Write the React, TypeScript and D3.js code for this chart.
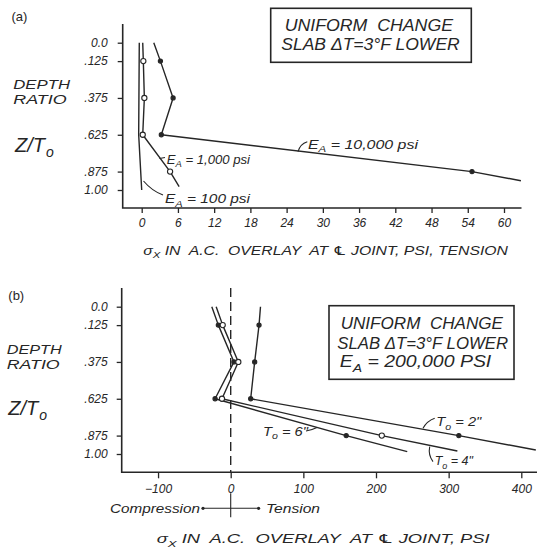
import React, { useEffect, useRef } from 'react';
import * as d3 from 'd3';

// depth ratio z/To
const depthTicks = [0, 0.125, 0.375, 0.625, 0.875, 1.0];
const depthLabels = ['0.0', '.125', '.375', '.625', '.875', '1.00'];
const markedDepths = [0.125, 0.375, 0.625, 0.875];

// panel (a) - stress in psi, tension
const xTicksA = [0, 6, 12, 18, 24, 30, 36, 42, 48, 54, 60];
const ea100Depth = [0, 0.625, 1.0];
const ea100Stress = [-0.4, -0.5, 0];
const ea1000Depth = [0, 0.125, 0.375, 0.625, 0.875, 0.977];
const ea1000Stress = [0.17, 0.27, 0.44, 0.17, 4.7, 6.2];
const ea10000Depth = [0, 0.125, 0.375, 0.625, 0.875, 0.937];
const ea10000Stress = [2.0, 3.1, 5.2, 3.25, 54.7, 62.8];

// panel (b) - EA = 200,000 psi, three overlay thicknesses
const xTicksB = [-100, 0, 100, 200, 300, 400];
const to2Depth = [0, 0.125, 0.375, 0.625, 0.875, 0.973];
const to2Stress = [41, 39, 33, 27.5, 314, 420];
const to4Depth = [0, 0.125, 0.375, 0.625, 0.875, 0.98];
const to4Stress = [-20, -11, 10.5, -12, 208, 312];
const to6Depth = [0, 0.125, 0.375, 0.625, 0.875, 0.984];
const to6Stress = [-26, -17, 4.5, -21.5, 159, 243];

const FONT = '"Liberation Sans", Arial, sans-serif';
const INK = '#262626';

type Part = { t: string; sub?: boolean; sym?: boolean };

function label(g: any, x: number, y: number, parts: Part[], size: number, opts: any = {}) {
  const t = g.append('text')
    .attr('x', x)
    .attr('y', y)
    .attr('font-family', FONT)
    .attr('font-style', opts.normal ? 'normal' : 'italic')
    .attr('font-size', size)
    .attr('fill', INK)
    .attr('text-anchor', opts.anchor || 'start')
    .style('white-space', 'pre');
  if (opts.len) t.attr('textLength', opts.len).attr('lengthAdjust', 'spacingAndGlyphs');
  let down = false;
  parts.forEach(p => {
    const s = t.append('tspan').text(p.t);
    if (p.sym) s.attr('font-family', '"DejaVu Sans", sans-serif');
    if (p.sub) {
      s.attr('font-size', size * 0.72).attr('dy', size * 0.3);
      down = true;
    } else if (down) {
      s.attr('dy', -size * 0.3);
      down = false;
    }
  });
  return t;
}

// the "Z/To" depth symbol, with the subscript as its own text so nothing overlaps
function depthSymbol(g: any, x: number, y: number) {
  const main = g.append('text')
    .attr('x', x).attr('y', y)
    .attr('font-family', FONT).attr('font-style', 'italic')
    .attr('font-size', 20).attr('fill', INK)
    .text('Z/T');
  const w = main.node().getComputedTextLength();
  g.append('text')
    .attr('x', x + w + 1).attr('y', y + 5)
    .attr('font-family', FONT).attr('font-style', 'italic')
    .attr('font-size', 14).attr('fill', INK)
    .text('o');
}

function drawSeries(g: any, x: any, y: any, depth: number[], stress: number[], marker: string | null) {
  const pts = depth.map((d, i) => [x(stress[i]), y(d)]);
  g.append('path')
    .attr('d', d3.line()(pts as any))
    .attr('fill', 'none')
    .attr('stroke', INK)
    .attr('stroke-width', 1.4)
    .attr('stroke-linejoin', 'round');
  if (!marker) return;
  depth.forEach((d, i) => {
    if (markedDepths.indexOf(d) < 0) return;
    g.append('circle')
      .attr('cx', x(stress[i]))
      .attr('cy', y(d))
      .attr('r', marker === 'open' ? 2.6 : 2.1)
      .attr('fill', marker === 'open' ? '#fff' : INK)
      .attr('stroke', INK)
      .attr('stroke-width', 1.1);
  });
}

function drawAxes(g: any, x: any, y: any, xTicks: number[], frame: any, pad: any) {
  g.append('g')
    .attr('transform', `translate(${frame.left},0)`)
    .call(d3.axisLeft(y).tickValues(depthTicks).tickFormat((d, i) => depthLabels[i]).tickSize(5).tickPadding(pad.y))
    .call((s: any) => s.select('.domain').remove());
  g.append('g')
    .attr('transform', `translate(0,${frame.bottom})`)
    .call(d3.axisBottom(x).tickValues(xTicks).tickFormat(d3.format('d')).tickSize(pad.tick).tickPadding(pad.x))
    .call((s: any) => s.select('.domain').remove());
  g.selectAll('.tick line').attr('stroke', INK).attr('stroke-width', 1.3);
  g.selectAll('.tick text')
    .attr('font-family', FONT)
    .attr('font-style', 'italic')
    .attr('font-size', 12)
    .attr('fill', INK);
  g.append('path')
    .attr('d', `M${frame.left},${frame.top}V${frame.bottom}H${frame.right}`)
    .attr('fill', 'none')
    .attr('stroke', INK)
    .attr('stroke-width', 1.6);
}

function leader(g: any, d: string) {
  g.append('path').attr('d', d).attr('fill', 'none').attr('stroke', INK).attr('stroke-width', 1.1);
}

function box(g: any, x: number, y: number, w: number, h: number) {
  g.append('rect').attr('x', x).attr('y', y).attr('width', w).attr('height', h)
    .attr('fill', '#fff').attr('stroke', INK).attr('stroke-width', 1.6);
}

function Chart() {
  const ref = useRef<SVGSVGElement>(null);

  useEffect(() => {
    const svg = d3.select(ref.current);
    svg.selectAll('*').remove();

    // ---------- panel (a) ----------
    const a = svg.append('g');
    const xA = d3.scaleLinear().domain([0, 60]).range([141.7, 504]);
    const yA = d3.scaleLinear().domain([0, 1]).range([42.7, 190]);
    drawAxes(a, xA, yA, xTicksA, { left: 122.7, top: 24, bottom: 208, right: 521.5 }, { y: 10, x: 5, tick: 5 });

    drawSeries(a, xA, yA, ea100Depth, ea100Stress, null);
    drawSeries(a, xA, yA, ea1000Depth, ea1000Stress, 'open');
    drawSeries(a, xA, yA, ea10000Depth, ea10000Stress, 'dot');

    label(a, 11.5, 20.5, [{ t: '(a)' }], 13, { normal: true });
    label(a, 13.3, 89.3, [{ t: 'DEPTH' }], 12.5, { len: 56.7 });
    label(a, 13.3, 103.6, [{ t: 'RATIO' }], 12.5, { len: 53.3 });
    depthSymbol(a, 15, 152);

    box(a, 270.7, 8.3, 200.6, 54);
    label(a, 284.7, 31, [{ t: 'UNIFORM  CHANGE' }], 16, { len: 168.3 });
    label(a, 281.3, 50.3, [{ t: 'SLAB ΔT=3°F LOWER' }], 16, { len: 178.4 });

    label(a, 308, 148.5, [{ t: 'E' }, { t: 'A', sub: true }, { t: ' = 10,000 psi' }], 13, { len: 110 });
    leader(a, 'M307.3,141.7 Q300,144 298,151.7');
    label(a, 166.7, 163.5, [{ t: 'E' }, { t: 'A', sub: true }, { t: ' = 1,000 psi' }], 13, { len: 83.3 });
    leader(a, 'M165,157.5 L159.5,158.5');
    label(a, 165, 202.5, [{ t: 'E' }, { t: 'A', sub: true }, { t: ' = 100 psi' }], 13.5, { len: 85 });
    leader(a, 'M163,195 Q152,191 143.5,181');

    label(a, 143.3, 254.5, [{ t: 'σ' }, { t: 'X', sub: true }, { t: ' IN  A.C.  OVERLAY  AT ' }, { t: '℄', sym: true }, { t: ' JOINT, PSI, TENSION' }], 12.5, { len: 364.7 });

    // ---------- panel (b) ----------
    const b = svg.append('g');
    const xB = d3.scaleLinear().domain([0, 400]).range([230.7, 521.3]);
    const yB = d3.scaleLinear().domain([0, 1]).range([306.7, 454]);
    drawAxes(b, xB, yB, xTicksB, { left: 121.7, top: 288, bottom: 472.3, right: 537 }, { y: 9, x: 6, tick: 6 });

    b.append('line')
      .attr('x1', xB(0)).attr('x2', xB(0))
      .attr('y1', 288).attr('y2', 472.3)
      .attr('stroke', INK).attr('stroke-width', 1.4)
      .attr('stroke-dasharray', '9,5');

    drawSeries(b, xB, yB, to6Depth, to6Stress, 'dot');
    drawSeries(b, xB, yB, to4Depth, to4Stress, 'open');
    drawSeries(b, xB, yB, to2Depth, to2Stress, 'dot');

    label(b, 8.3, 299.5, [{ t: '(b)' }], 13, { normal: true });
    label(b, 6.7, 354.3, [{ t: 'DEPTH' }], 12.5, { len: 55 });
    label(b, 6.7, 369.3, [{ t: 'RATIO' }], 12.5, { len: 53 });
    depthSymbol(b, 8.3, 415);

    box(b, 329, 305.7, 185, 73.6);
    label(b, 340.7, 329.3, [{ t: 'UNIFORM  CHANGE' }], 16, { len: 162.3 });
    label(b, 337.3, 348.7, [{ t: 'SLAB ΔT=3°F LOWER' }], 16, { len: 170.7 });
    label(b, 339.7, 366.7, [{ t: 'E' }, { t: 'A', sub: true }, { t: ' = 200,000 PSI' }], 16, { len: 151.6 });

    label(b, 436.3, 426, [{ t: 'T' }, { t: 'o', sub: true }, { t: ' = 2"' }], 12.5, { len: 45 });
    leader(b, 'M434.7,418.3 Q427,421 423,428.3');
    label(b, 434.7, 465, [{ t: 'T' }, { t: 'o', sub: true }, { t: ' = 4"' }], 12.5, { len: 38.3 });
    leader(b, 'M433,461.7 Q428,455 429.7,446.7');
    label(b, 263, 435.5, [{ t: 'T' }, { t: 'o', sub: true }, { t: ' = 6"' }], 12.5, { len: 45 });
    leader(b, 'M306,431 Q312,430 317,427.5');

    // compression / tension key
    const ky = 508.3;
    b.append('line').attr('x1', 203).attr('x2', 258.6).attr('y1', ky).attr('y2', ky)
      .attr('stroke', INK).attr('stroke-width', 1.1);
    b.append('line').attr('x1', xB(0)).attr('x2', xB(0)).attr('y1', 493.3).attr('y2', 517.3)
      .attr('stroke', INK).attr('stroke-width', 1.1);
    [203, 258.6].forEach(cx => {
      b.append('circle').attr('cx', cx).attr('cy', ky).attr('r', 1.6).attr('fill', INK);
    });
    label(b, 200, ky + 4.5, [{ t: 'Compression' }], 12.5, { anchor: 'end', len: 90 });
    label(b, 266, ky + 4.5, [{ t: 'Tension' }], 12.5, { len: 54 });

    label(b, 156.7, 543, [{ t: 'σ' }, { t: 'X', sub: true }, { t: ' IN  A.C.  OVERLAY  AT ' }, { t: '℄', sym: true }, { t: ' JOINT, PSI' }], 12.5, { len: 333 });
  }, []);

  return <svg ref={ref} width={537} height={550} style={{ position: 'absolute', left: 0, top: 0, background: '#fff' }} />;
}

export default function App() {
  return <Chart />;
}
